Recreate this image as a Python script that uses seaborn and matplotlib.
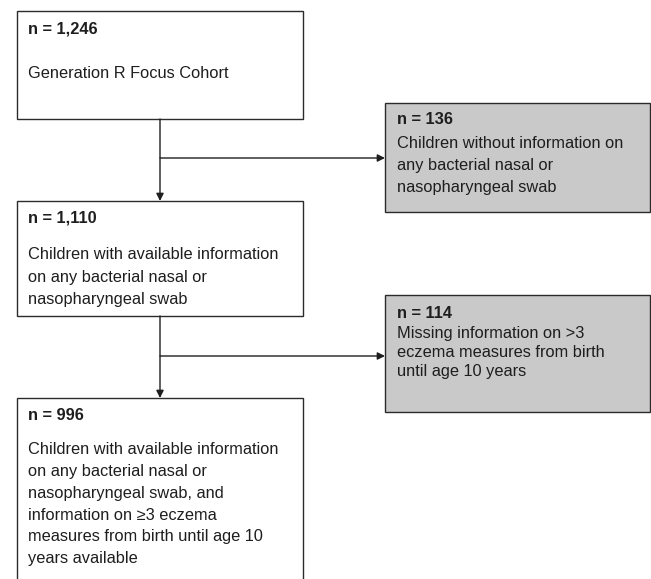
import matplotlib
matplotlib.use("Agg")
import matplotlib.pyplot as plt
import seaborn as sns
from matplotlib.patches import Rectangle

# flowchart content
main_counts = ["n = 1,246", "n = 1,110", "n = 996"]
main_texts = [
    "Generation R Focus Cohort",
    "Children with available information\non any bacterial nasal or\nnasopharyngeal swab",
    "Children with available information\non any bacterial nasal or\nnasopharyngeal swab, and\n"
    "information on \u22653 eczema\nmeasures from birth until age 10\nyears available",
]
excl_counts = ["n = 136", "n = 114"]
excl_texts = [
    "Children without information on\nany bacterial nasal or\nnasopharyngeal swab",
    "Missing information on >3\neczema measures from birth\nuntil age 10 years",
]

# layout (pixels, y down)
main_boxes = [(17, 11, 286, 108), (17, 201, 286, 115), (17, 398, 286, 190)]
main_count_y = [29, 218, 416]
main_text_y = [75, 256, 451]
main_spacing = [1.0, 1.63, 1.57]
excl_boxes = [(385, 103, 265, 109), (385, 295, 265, 117)]
excl_count_y = [120, 314]
excl_text_y = [145, 335]
excl_spacing = [1.59, 1.35]
branch_y = [158, 356]
spine_x = 160

sns.set_theme(style="white")
plt.rcParams["font.family"] = ["Liberation Sans", "DejaVu Sans"]

fig = plt.figure(figsize=(6.51, 5.79), dpi=100)
ax = fig.add_axes([0, 0, 1, 1])
ax.set_xlim(0, 651)
ax.set_ylim(579, 0)
ax.axis("off")

edge = "#2b2b2b"
ink = "#1e1e1e"
fs = 11.8

for (x, y, w, h), cnt, txt, cy, ty, ls in zip(main_boxes, main_counts, main_texts,
                                              main_count_y, main_text_y, main_spacing):
    ax.add_patch(Rectangle((x, y), w, h, facecolor="white", edgecolor=edge, lw=1.0))
    ax.text(x + 11, cy, cnt, fontsize=fs, fontweight="bold", va="center", color=ink)
    ax.text(x + 11, ty - 9, txt, fontsize=fs, va="top", linespacing=ls, color=ink)

for (x, y, w, h), cnt, txt, cy, ty, ls in zip(excl_boxes, excl_counts, excl_texts,
                                              excl_count_y, excl_text_y, excl_spacing):
    ax.add_patch(Rectangle((x, y), w, h, facecolor="#c9c9c9", edgecolor=edge, lw=1.0))
    ax.text(x + 12, cy, cnt, fontsize=fs, fontweight="bold", va="center", color=ink)
    ax.text(x + 12, ty - 9, txt, fontsize=fs, va="top", linespacing=ls, color=ink)

arrow = dict(arrowstyle="-|>", color=ink, lw=1.0, mutation_scale=11,
             shrinkA=0, shrinkB=0)

# vertical arrows between main boxes
for i in range(len(main_boxes) - 1):
    x, y, w, h = main_boxes[i]
    nxt = main_boxes[i + 1]
    ax.annotate("", xy=(spine_x, nxt[1]), xytext=(spine_x, y + h), arrowprops=arrow)

# side arrows to exclusion boxes
for by, (x, y, w, h) in zip(branch_y, excl_boxes):
    ax.annotate("", xy=(x, by), xytext=(spine_x, by), arrowprops=arrow)

fig.savefig("out.png", dpi=100, facecolor="white")
